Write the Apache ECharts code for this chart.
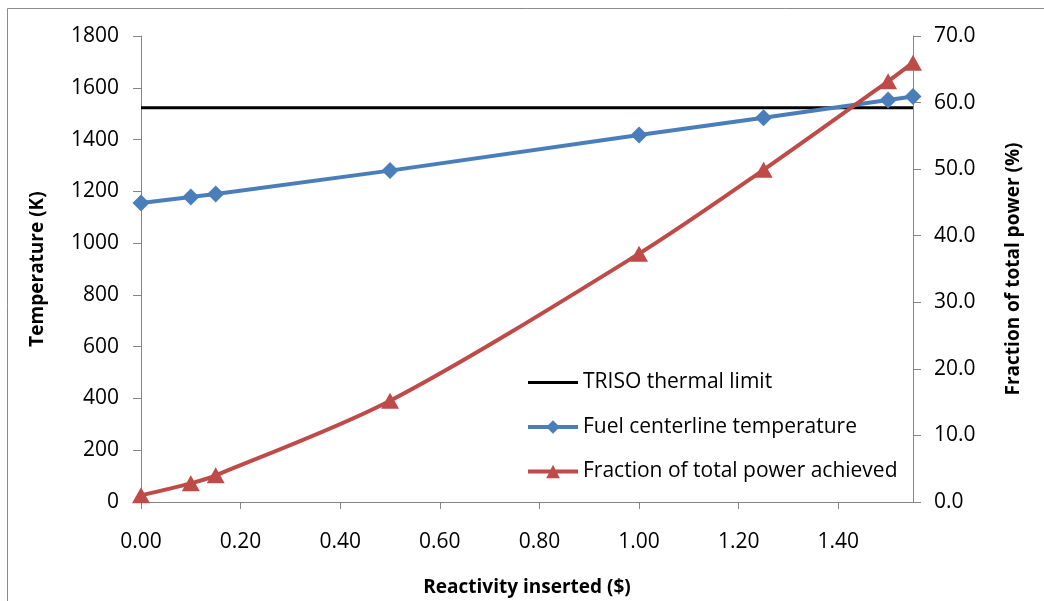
<!DOCTYPE html>
<html><head><meta charset="utf-8">
<script src="https://cdn.jsdelivr.net/npm/echarts@6/dist/echarts.min.js"></script>
<style>html,body{margin:0;padding:0;background:#fff}#c{width:1044px;height:601px}</style>
</head><body><div id="c"></div>
<script>
const reactivity = [0.00, 0.10, 0.15, 0.50, 1.00, 1.25, 1.50, 1.55];
const fuelTemp = [1155, 1178, 1190, 1280, 1418, 1484, 1553, 1566];
const powerFraction = [1.0, 2.8, 4.0, 15.2, 37.3, 49.9, 63.2, 66.0];
const trisoLimit = 1523;
const trisoX = [0.00, 1.55];

const font = '"Open Sans", "Noto Sans", sans-serif';
const chart = echarts.init(document.getElementById('c'));
const axisLine = {show: true, lineStyle: {color: '#868686', width: 1}};
chart.setOption({
  animation: false,
  graphic: [{type: 'rect', shape: {x: 7.5, y: 8.5, width: 1200, height: 800}, style: {fill: 'none', stroke: '#8a8a8a', lineWidth: 1}}],
  grid: {left: 141, right: 131, top: 36, bottom: 99, containLabel: false, outerBoundsMode: 'none'},
  legend: {
    orient: 'vertical', left: 526, top: 372, padding: 0, itemGap: 23.5, itemWidth: 50, itemHeight: 17,
    textStyle: {fontFamily: font, fontSize: 21, color: '#000'},
    data: [
      {name: 'TRISO thermal limit', itemStyle: {opacity: 0}, lineStyle: {width: 3, color: '#000'}},
      {name: 'Fuel centerline temperature', lineStyle: {width: 4}},
      {name: 'Fraction of total power achieved', lineStyle: {width: 4}}
    ]
  },
  xAxis: {
    type: 'value', min: 0, max: 1.55, interval: 0.2,
    name: 'Reactivity inserted ($)', nameLocation: 'middle', nameGap: 76,
    nameTextStyle: {fontFamily: font, fontSize: 19, fontWeight: 'bold', color: '#000'},
    axisLine: axisLine, axisTick: {show: true, length: 7, lineStyle: {color: '#868686'}},
    splitLine: {show: false},
    axisLabel: {fontFamily: font, fontSize: 21, color: '#000', margin: 30, formatter: v => v.toFixed(2), showMaxLabel: false}
  },
  yAxis: [{
    type: 'value', min: 0, max: 1800, interval: 200,
    name: 'Temperature (K)', nameLocation: 'middle', nameGap: 94, nameRotate: 90,
    nameTextStyle: {fontFamily: font, fontSize: 19, fontWeight: 'bold', color: '#000'},
    axisLine: axisLine, axisTick: {show: true, length: 8, lineStyle: {color: '#868686'}},
    splitLine: {show: false},
    axisLabel: {fontFamily: font, fontSize: 21, color: '#000', margin: 22, formatter: v => String(v)}
  }, {
    type: 'value', min: 0, max: 70, interval: 10, position: 'right',
    name: 'Fraction of total power (%)', nameLocation: 'middle', nameGap: 91, nameRotate: 90,
    nameTextStyle: {fontFamily: font, fontSize: 19, fontWeight: 'bold', color: '#000'},
    axisLine: axisLine, axisTick: {show: true, length: 8, lineStyle: {color: '#868686'}},
    splitLine: {show: false},
    axisLabel: {fontFamily: font, fontSize: 21, color: '#000', margin: 21, formatter: v => v.toFixed(1)}
  }],
  series: [{
    name: 'TRISO thermal limit', type: 'line', yAxisIndex: 0, symbol: 'none',
    lineStyle: {color: '#000', width: 3}, itemStyle: {color: '#000'},
    data: trisoX.map(x => [x, trisoLimit])
  }, {
    name: 'Fuel centerline temperature', type: 'line', yAxisIndex: 0,
    symbol: 'diamond', symbolSize: [17, 17],
    lineStyle: {color: '#4a7ebb', width: 4}, itemStyle: {color: '#4a7ebb'},
    data: reactivity.map((x, i) => [x, fuelTemp[i]])
  }, {
    name: 'Fraction of total power achieved', type: 'line', yAxisIndex: 1, smooth: 0.3,
    symbol: 'triangle', symbolSize: [18, 16],
    lineStyle: {color: '#be4b48', width: 4}, itemStyle: {color: '#be4b48'},
    data: reactivity.map((x, i) => [x, powerFraction[i]])
  }]
});
</script></body></html>
